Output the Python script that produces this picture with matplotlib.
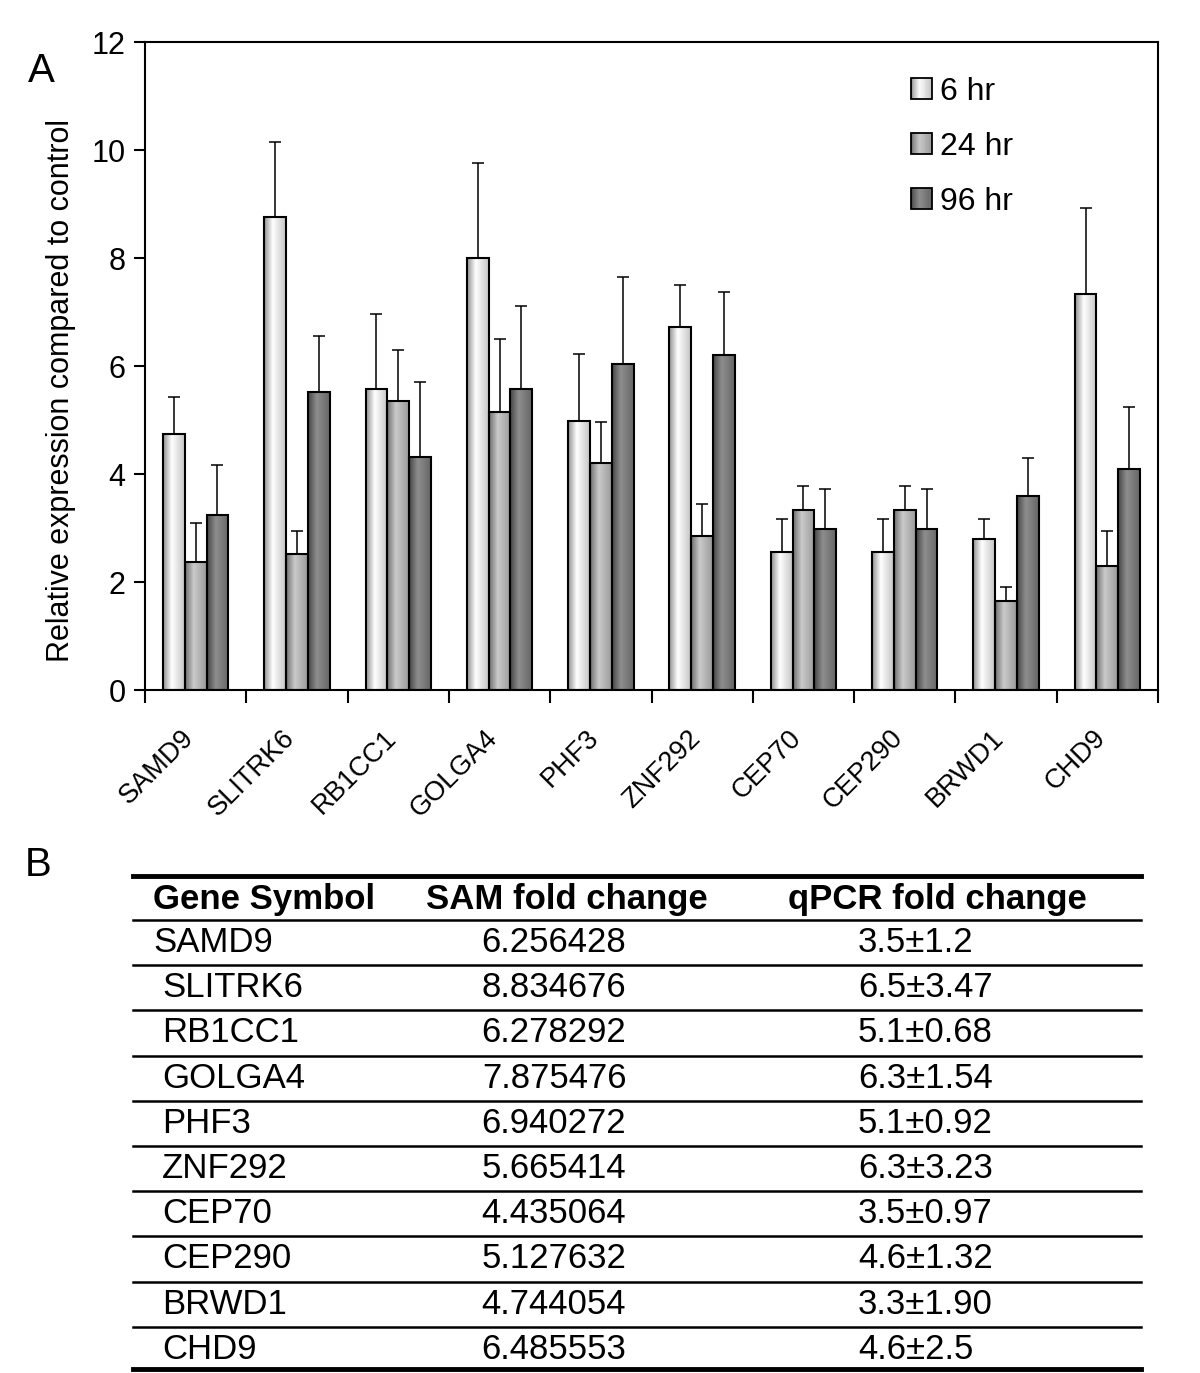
import numpy as np
import matplotlib
matplotlib.use("Agg")
import matplotlib.pyplot as plt
import matplotlib.transforms as mtransforms
from matplotlib.colors import LinearSegmentedColormap
from matplotlib.patches import Rectangle
from matplotlib.legend_handler import HandlerBase

plt.rcParams['font.family'] = ['Liberation Sans', 'DejaVu Sans']

# ---------------- data
genes = ['SAMD9', 'SLITRK6', 'RB1CC1', 'GOLGA4', 'PHF3',
         'ZNF292', 'CEP70', 'CEP290', 'BRWD1', 'CHD9']
series = ['6 hr', '24 hr', '96 hr']
val_6 = [4.75, 8.76, 5.57, 8.00, 4.99, 6.72, 2.55, 2.55, 2.80, 7.34]
val_24 = [2.37, 2.51, 5.35, 5.14, 4.20, 2.86, 3.33, 3.33, 1.65, 2.29]
val_96 = [3.24, 5.51, 4.31, 5.57, 6.04, 6.20, 2.98, 2.98, 3.59, 4.10]
err_6 = [0.68, 1.38, 1.39, 1.76, 1.23, 0.78, 0.61, 0.61, 0.36, 1.58]
err_24 = [0.73, 0.44, 0.95, 1.36, 0.76, 0.58, 0.44, 0.44, 0.26, 0.66]
err_96 = [0.92, 1.04, 1.40, 1.55, 1.60, 1.17, 0.74, 0.74, 0.71, 1.15]

sam_fold = ['6.256428', '8.834676', '6.278292', '7.875476', '6.940272',
            '5.665414', '4.435064', '5.127632', '4.744054', '6.485553']
qpcr_fold = ['3.5±1.2', '6.5±3.47', '5.1±0.68', '6.3±1.54', '5.1±0.92',
             '6.3±3.23', '3.5±0.97', '4.6±1.32', '3.3±1.90', '4.6±2.5']
headers = ['Gene Symbol', 'SAM fold change', 'qPCR fold change']

# gradient shading, one per series (left edge, highlight, right edge)
shades = [['#8e8e8e', '#ffffff', '#c4c4c4'],
          ['#6e6e6e', '#cacaca', '#9a9a9a'],
          ['#444444', '#8e8e8e', '#666666']]
cmaps = [LinearSegmentedColormap.from_list('s%d' % i,
         [(0, c[0]), (0.4, c[1]), (1, c[2])]) for i, c in enumerate(shades)]


class GradHandler(HandlerBase):
    def __init__(self, cmap):
        super().__init__()
        self.cmap = cmap

    def create_artists(self, legend, orig_handle, xdescent, ydescent,
                       width, height, fontsize, trans):
        n = 24
        out = []
        for k in range(n):
            r = Rectangle((-xdescent + width * k / n, -ydescent), width / n + 0.3,
                          height, facecolor=self.cmap((k + 0.5) / n),
                          edgecolor='none', transform=trans)
            out.append(r)
        out.append(Rectangle((-xdescent, -ydescent), width, height,
                             facecolor='none', edgecolor='black', lw=1.3,
                             transform=trans))
        return out


fig = plt.figure(figsize=(12, 13.73), dpi=100)
W, H = 1200, 1373
ax = fig.add_axes([145 / W, (H - 690) / H, (1158 - 145) / W, (690 - 42) / H])

x = np.arange(len(genes))
w = 0.215
grad = np.linspace(0, 1, 256).reshape(1, -1)
handles = []
for i, (vals, errs) in enumerate([(val_6, err_6), (val_24, err_24), (val_96, err_96)]):
    bars = ax.bar(x + (i - 1) * w, vals, w, facecolor='none',
                  edgecolor='black', linewidth=1.5, zorder=3, label=series[i])
    for b in bars:
        bx, by = b.get_x(), b.get_y()
        im = ax.imshow(grad, cmap=cmaps[i], aspect='auto', zorder=2,
                       extent=(bx, bx + b.get_width(), by, by + b.get_height()))
        im.set_clip_path(b)
    ax.errorbar(x + (i - 1) * w, vals, yerr=[np.zeros(len(vals)), errs],
                fmt='none', ecolor='black', elinewidth=1.1, capsize=4,
                capthick=1.1, zorder=4)
    handles.append(bars)

ax.set_xlim(-0.5, 9.5)
ax.set_ylim(0, 12)
ax.set_yticks(np.arange(0, 13, 2))
ax.set_xticks(np.arange(len(genes) + 1) - 0.5)
ax.set_xticklabels([])
ax.tick_params(axis='x', direction='out', length=9, width=1.5)
ax.tick_params(axis='y', direction='out', length=8, width=1.5, labelsize=22,
               pad=6)
for s in ax.spines.values():
    s.set_linewidth(1.5)

# category names, rotated, hung below the axis
lab_trans = ax.get_xaxis_transform() + mtransforms.ScaledTranslation(
    -0.15, -0.35, fig.dpi_scale_trans)
for xi, g in zip(x, genes):
    ax.text(xi, 0, g, transform=lab_trans, rotation=45, ha='right', va='top',
            rotation_mode='anchor', fontsize=19.5)

ax.set_ylabel('Relative expression compared to control', fontsize=22)
ax.yaxis.set_label_coords((76 - 145) / 1013, (690 - 391) / 648)

leg = ax.legend(handles, series, loc='upper left',
                bbox_to_anchor=((898 - 145) / 1013, (690 - 64) / 648),
                frameon=False, fontsize=23, handlelength=0.65,
                handleheight=0.65, handletextpad=0.25, labelspacing=0.78,
                borderaxespad=0,
                handler_map={handles[i]: GradHandler(cmaps[i]) for i in range(3)})

fig.text(28 / W, 1 - 71 / H, 'A', fontsize=29, va='center')

# ---------------- table (pixel coordinates)
tab = fig.add_axes([0, 0, 1, 1])
tab.set_xlim(0, W)
tab.set_ylim(H, 0)
tab.axis('off')

fig.text(25 / W, 1 - 865 / H, 'B', fontsize=29, va='center')
left, right = 133, 1141
top, head_bot, row_h = 876, 920, 45.2
tab.plot([left, right], [top, top], color='black', lw=3.5)
tab.plot([left, right], [head_bot, head_bot], color='black', lw=1.8)
col_x = [153, 567, 937]
for j, h in enumerate(headers):
    tab.text(col_x[j], (top + head_bot) / 2 + 1, h, fontsize=25,
             fontweight='bold', va='center', ha='left' if j == 0 else 'center')
for r, g in enumerate(genes):
    yc = head_bot + row_h * (r + 0.5)
    tab.text(153 if r == 0 else 162, yc, g, fontsize=25, va='center')
    tab.text(554, yc, sam_fold[r], fontsize=25, va='center', ha='center')
    tab.text(858, yc, qpcr_fold[r], fontsize=25, va='center')
    yl = head_bot + row_h * (r + 1)
    if r < len(genes) - 1:
        tab.plot([left, right], [yl, yl], color='black', lw=1.8)
    else:
        tab.plot([left, right], [yl - 3, yl - 3], color='black', lw=3.5)

fig.savefig('out.png', dpi=100)
